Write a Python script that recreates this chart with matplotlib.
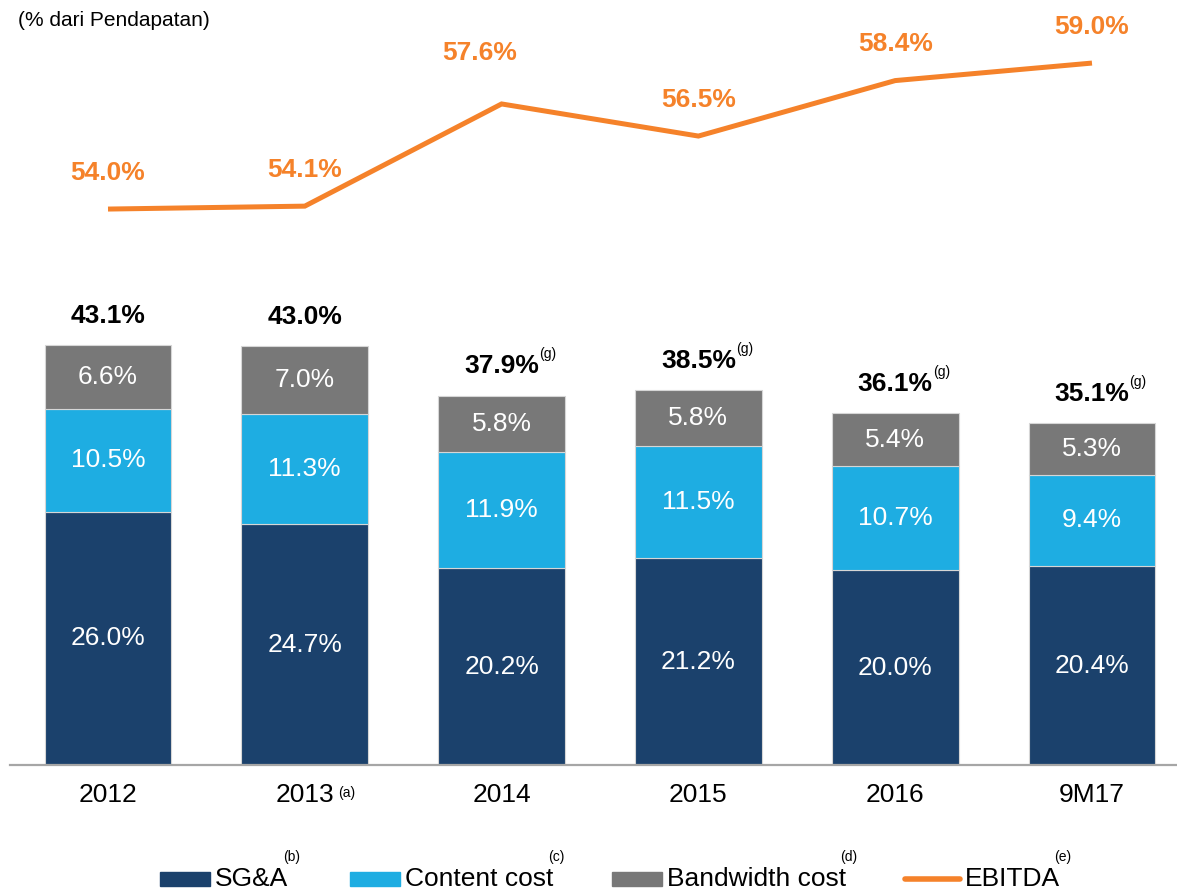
import matplotlib
matplotlib.use("Agg")
import matplotlib.pyplot as plt
from matplotlib.patches import Rectangle
from matplotlib.lines import Line2D

plt.rcParams['font.family'] = ['Liberation Sans', 'DejaVu Sans']

# data
categories = ["2012", "2013", "2014", "2015", "2016", "9M17"]
category_notes = ["", "(a)", "", "", "", ""]
sga = [26.0, 24.7, 20.2, 21.2, 20.0, 20.4]
content = [10.5, 11.3, 11.9, 11.5, 10.7, 9.4]
bandwidth = [6.6, 7.0, 5.8, 5.8, 5.4, 5.3]
totals = [43.1, 43.0, 37.9, 38.5, 36.1, 35.1]
total_notes = ["", "", "(g)", "(g)", "(g)", "(g)"]
ebitda = [54.0, 54.1, 57.6, 56.5, 58.4, 59.0]

series_names = ["SG&A", "Content cost", "Bandwidth cost", "EBITDA"]
series_notes = ["(b)", "(c)", "(d)", "(e)"]

NAVY = "#1b416c"
CYAN = "#1eade2"
GREY = "#787878"
ORANGE = "#f5822a"
FS = 19

W_PX, H_PX = 1177, 891
fig = plt.figure(figsize=(W_PX / 100, H_PX / 100), dpi=100)

# bars axes: baseline at y=765 px, from x=10 px to the right edge
rect = [10 / W_PX, 126 / H_PX, 1167 / W_PX, 765 / H_PX]
ax = fig.add_axes(rect)
xlim = (-0.498, 5.432)
ax.set_xlim(*xlim)
ax.set_ylim(0, 78.5)

x = list(range(len(categories)))
bw = 0.645
edge = dict(edgecolor="#d6d6d6", linewidth=0.8)
ax.bar(x, sga, bw, color=NAVY, **edge)
ax.bar(x, content, bw, bottom=sga, color=CYAN, **edge)
bottom3 = [a + b for a, b in zip(sga, content)]
ax.bar(x, bandwidth, bw, bottom=bottom3, color=GREY, **edge)

for i in x:
    # segment labels
    ax.text(i, sga[i] / 2, f"{sga[i]:.1f}%", ha="center", va="center",
            color="white", fontsize=FS)
    ax.text(i, sga[i] + content[i] / 2, f"{content[i]:.1f}%", ha="center",
            va="center", color="white", fontsize=FS)
    ax.text(i, bottom3[i] + bandwidth[i] / 2, f"{bandwidth[i]:.1f}%",
            ha="center", va="center", color="white", fontsize=FS)
    # totals
    t = ax.annotate(f"{totals[i]:.1f}%", xy=(i, totals[i]), xytext=(0, 21),
                    textcoords="offset points", ha="center", va="center",
                    fontsize=FS, fontweight="bold", color="black")
    if total_notes[i]:
        ax.annotate(total_notes[i], xy=(1, 1), xycoords=t, xytext=(0, 0),
                    textcoords="offset points", ha="left", va="center",
                    fontsize=10, color="black")
    # category labels
    c = ax.annotate(categories[i], xy=(i, 0), xytext=(0, -13),
                    textcoords="offset points", ha="center", va="top",
                    fontsize=FS, color="black", annotation_clip=False)
    if category_notes[i]:
        ax.annotate(category_notes[i], xy=(1, 1), xycoords=c, xytext=(3, -2),
                    textcoords="offset points", ha="left", va="top",
                    fontsize=10, color="black")

for s in ["top", "left", "right"]:
    ax.spines[s].set_visible(False)
ax.spines["bottom"].set_color("#a6a6a6")
ax.spines["bottom"].set_linewidth(1.6)
ax.set_xticks([])
ax.set_yticks([])
ax.patch.set_visible(False)

# EBITDA line on its own scale
ax2 = fig.add_axes(rect)
ax2.set_xlim(*xlim)
ax2.set_ylim(34.96, 61.16)
ax2.axis("off")
ax2.plot(x, ebitda, color=ORANGE, linewidth=3.6, solid_joinstyle="miter",
         solid_capstyle="butt")
label_offsets = [(0, 26), (0, 26), (-16, 37), (0, 26), (0, 26), (0, 26)]
for i in x:
    ax2.annotate(f"{ebitda[i]:.1f}%", xy=(i, ebitda[i]), xytext=label_offsets[i],
                 textcoords="offset points", ha="center", va="center",
                 fontsize=FS, fontweight="bold", color=ORANGE)

fig.text(18 / W_PX, 1 - 20 / H_PX, "(% dari Pendapatan)", ha="left",
         va="center", fontsize=15)

# legend, placed by hand
leg_y = 1 - 879 / H_PX
mark_x = [160, 350, 612, 905]
mark_w = 50
for k, name in enumerate(series_names):
    x0 = mark_x[k] / W_PX
    if k < 3:
        color = [NAVY, CYAN, GREY][k]
        fig.add_artist(Rectangle((x0, 1 - 886 / H_PX), mark_w / W_PX, 14 / H_PX,
                                 transform=fig.transFigure, color=color))
    else:
        fig.add_artist(Line2D([x0, x0 + 55 / W_PX], [leg_y, leg_y],
                              transform=fig.transFigure, color=ORANGE,
                              linewidth=4, solid_capstyle="round"))
    tx = x0 + (mark_w + 5 if k < 3 else 60) / W_PX
    lt = fig.text(tx, leg_y, name, ha="left", va="center", fontsize=FS)
    ax.annotate(series_notes[k], xy=(1, 1), xycoords=lt, xytext=(-4, 7),
                textcoords="offset points", ha="left", va="center",
                fontsize=10, annotation_clip=False)

fig.savefig("out.png", dpi=100)
